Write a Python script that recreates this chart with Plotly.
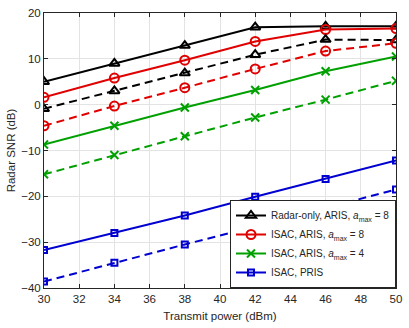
import plotly.graph_objects as go

x = [30, 34, 38, 42, 46, 50]
radar_aris8 = [5.0, 9.0, 12.9, 16.9, 17.1, 17.1]
radar_aris8_d = [-0.9, 3.0, 6.9, 10.9, 14.2, 14.1]
isac_aris8 = [1.6, 5.8, 9.7, 13.8, 16.4, 16.6]
isac_aris8_d = [-4.6, -0.3, 3.7, 7.8, 11.7, 13.4]
isac_aris4 = [-8.7, -4.6, -0.6, 3.2, 7.3, 10.5]
isac_aris4_d = [-15.2, -11.0, -6.9, -2.8, 1.1, 5.2]
isac_pris = [-31.7, -28.0, -24.2, -20.1, -16.2, -12.2]
isac_pris_d = [-38.6, -34.5, -30.5, -26.6, -22.6, -18.5]

names = ["Radar-only, ARIS, <i>a</i><sub>max</sub> = 8",
         "ISAC, ARIS, <i>a</i><sub>max</sub> = 8",
         "ISAC, ARIS, <i>a</i><sub>max</sub> = 4",
         "ISAC, PRIS"]
colors = ["#000000", "#e00000", "#00a000", "#0000d0"]
symbols = ["triangle-up-open", "circle-open", "x-thin-open", "square-open"]
sizes = [9, 9, 8, 6]
solid = [radar_aris8, isac_aris8, isac_aris4, isac_pris]
dashed = [radar_aris8_d, isac_aris8_d, isac_aris4_d, isac_pris_d]

fig = go.Figure()
for i in range(4):
    fig.add_trace(go.Scatter(
        x=x, y=solid[i], mode="lines+markers", name=names[i],
        line=dict(color=colors[i], width=2),
        marker=dict(symbol=symbols[i], size=sizes[i], color=colors[i],
                    line=dict(color=colors[i], width=2))))
for i in range(4):
    fig.add_trace(go.Scatter(
        x=x, y=dashed[i], mode="lines+markers", showlegend=False,
        line=dict(color=colors[i], width=2, dash="8px,5px"),
        marker=dict(symbol=symbols[i], size=sizes[i], color=colors[i],
                    line=dict(color=colors[i], width=2))))

axis_common = dict(showgrid=True, gridcolor="#e3e3e3", gridwidth=1,
                   showline=True, linecolor="#262626", linewidth=1, mirror="ticks",
                   ticks="inside", ticklen=4, tickcolor="#262626",
                   tickfont=dict(family="Liberation Sans, Arial", size=11.5, color="#262626"),
                   zeroline=False)
fig.update_layout(
    width=409, height=328,
    margin=dict(l=44, r=8, t=7, b=39),
    paper_bgcolor="white", plot_bgcolor="white",
    font=dict(family="Liberation Sans, Arial", size=11, color="#262626"),
    xaxis=dict(range=[30, 50], tickvals=list(range(30, 51, 2)),
               title=dict(text="Transmit power (dBm)", standoff=8,
                          font=dict(size=11.5, color="#262626")), **axis_common),
    yaxis=dict(range=[-40, 20], tickvals=[-40, -30, -20, -10, 0, 10, 20],
               title=dict(text="Radar SNR (dB)", standoff=3,
                          font=dict(size=11.5, color="#262626")), **axis_common),
    legend=dict(x=1, y=0, xanchor="right", yanchor="bottom",
                bgcolor="white", bordercolor="#262626", borderwidth=1,
                font=dict(size=10, color="#262626"), tracegroupgap=0,
                itemwidth=30),
)
fig.write_html("out.html")
